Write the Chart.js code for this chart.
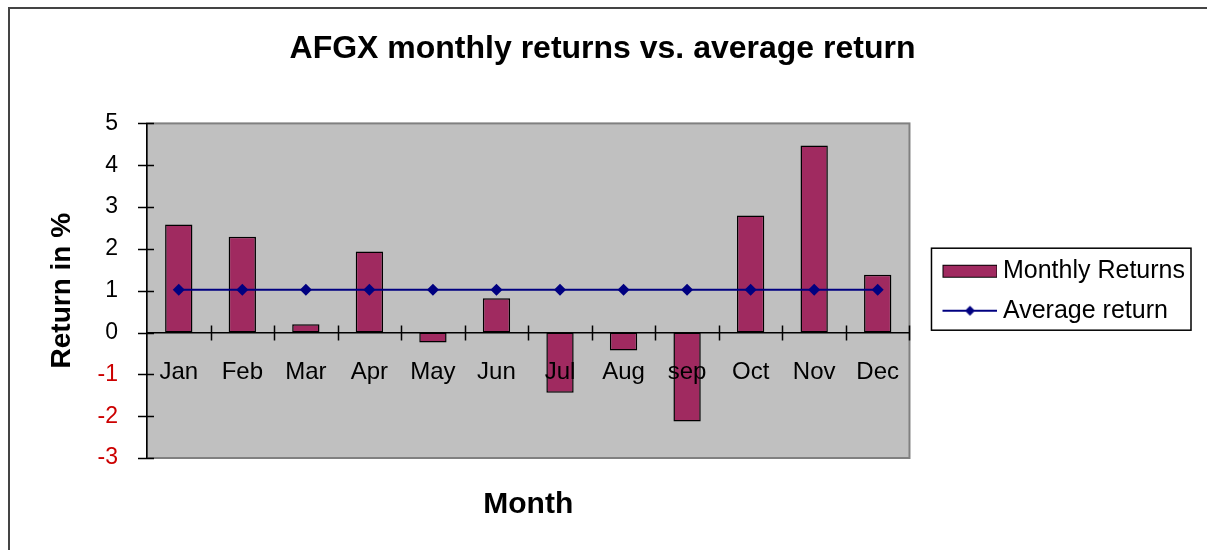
<!DOCTYPE html>
<html>
<head>
<meta charset="utf-8">
<title>AFGX monthly returns</title>
<script src="https://cdn.jsdelivr.net/npm/chart.js@4.4.1/dist/chart.umd.min.js"></script>
<style>
    html, body { margin: 0; padding: 0; background: #fff; }
    #wrap { width: 1207px; height: 550px; position: relative; }
</style>
</head>
<body>
<div id="wrap"><canvas id="afgxChart" width="1207" height="550"></canvas></div>
<script>
// Данные графика
const months = ['Jan', 'Feb', 'Mar', 'Apr', 'May', 'Jun', 'Jul', 'Aug', 'sep', 'Oct', 'Nov', 'Dec'];
const monthlyReturns = [2.58, 2.29, 0.20, 1.94, -0.24, 0.82, -1.44, -0.43, -2.13, 2.80, 4.47, 1.38];
const averageReturn = [1.02, 1.02, 1.02, 1.02, 1.02, 1.02, 1.02, 1.02, 1.02, 1.02, 1.02, 1.02];
const yTicks = [5, 4, 3, 2, 1, 0, -1, -2, -3];

const BAR_COLOR = '#a02a60';
const LINE_COLOR = '#000080';
const FONT = 'Arial, "Liberation Sans", sans-serif';

// Иконки для легенды (прямоугольник и линия с ромбом)
function makeSwatch(kind) {
    const c = document.createElement('canvas');
    c.width = 80;
    c.height = 16;
    const g = c.getContext('2d');
    if (kind === 'bar') {
        g.fillStyle = BAR_COLOR;
        g.fillRect(25, 2, 55, 13);
        g.strokeStyle = '#000';
        g.lineWidth = 1;
        g.strokeRect(25.5, 2.5, 54, 12);
    } else {
        g.strokeStyle = LINE_COLOR;
        g.lineWidth = 2;
        g.beginPath();
        g.moveTo(25, 8);
        g.lineTo(80, 8);
        g.stroke();
        g.fillStyle = LINE_COLOR;
        g.beginPath();
        g.moveTo(52.5, 3);
        g.lineTo(57.5, 8);
        g.lineTo(52.5, 13);
        g.lineTo(47.5, 8);
        g.closePath();
        g.fill();
    }
    return c;
}
const swatches = [makeSwatch('bar'), makeSwatch('line')];

// Рамка, серый фон области построения, рамка легенды и крестовые засечки
const decorPlugin = {
    id: 'decor',
    beforeDraw(chart) {
        const ctx = chart.ctx;
        const a = chart.chartArea;
        ctx.save();
        ctx.fillStyle = '#fff';
        ctx.fillRect(0, 0, chart.width, chart.height);
        ctx.strokeStyle = '#444';
        ctx.lineWidth = 2;
        ctx.beginPath();
        ctx.moveTo(9, chart.height);
        ctx.lineTo(9, 8);
        ctx.lineTo(chart.width, 8);
        ctx.stroke();
        ctx.fillStyle = '#c0c0c0';
        ctx.fillRect(a.left, a.top, a.right - a.left, a.bottom - a.top);
        ctx.strokeStyle = '#808080';
        ctx.lineWidth = 2;
        ctx.strokeRect(a.left, a.top, a.right - a.left, a.bottom - a.top);
        ctx.restore();
    },
    afterDraw(chart) {
        const ctx = chart.ctx;
        const x = chart.scales.x;
        const y = chart.scales.y;
        const y0 = y.getPixelForValue(0);
        const left = chart.chartArea.left;
        ctx.save();
        ctx.strokeStyle = '#000';
        ctx.lineWidth = 1.5;
        ctx.beginPath();
        yTicks.forEach(v => {
            const py = Math.round(y.getPixelForValue(v)) + 0.5;
            ctx.moveTo(left - 9, py);
            ctx.lineTo(left + 7, py);
        });
        const step = x.getPixelForValue(1) - x.getPixelForValue(0);
        for (let i = 0; i < months.length; i++) {
            const px = Math.round(x.getPixelForValue(i) + step / 2) + 0.5;
            ctx.moveTo(px, y0 - 7);
            ctx.lineTo(px, y0 + 8);
        }
        ctx.stroke();

        // рамка легенды
        const hb = chart.legend.legendHitBoxes;
        if (hb && hb.length) {
            const l = hb[0].left + 7;
            const r = hb[0].left + hb[0].width + 6;
            const t = hb[0].top - 10;
            const b = hb[hb.length - 1].top + hb[hb.length - 1].height + 7;
            ctx.lineWidth = 1.5;
            ctx.strokeRect(l, t, r - l, b - t);
        }
        ctx.restore();
    }
};

const ctx = document.getElementById('afgxChart').getContext('2d');
const afgxChart = new Chart(ctx, {
    type: 'bar',
    data: {
        labels: months,
        datasets: [
            {
                type: 'bar',
                label: 'Monthly Returns',
                data: monthlyReturns,
                backgroundColor: BAR_COLOR,
                borderColor: '#000',
                borderWidth: 1.5,
                borderSkipped: false,
                barPercentage: 0.43,
                categoryPercentage: 1,
                order: 2
            },
            {
                type: 'line',
                label: 'Average return',
                data: averageReturn,
                borderColor: LINE_COLOR,
                backgroundColor: LINE_COLOR,
                borderWidth: 2,
                pointStyle: 'rectRot',
                pointRadius: 6,
                pointBorderWidth: 0,
                pointBackgroundColor: LINE_COLOR,
                tension: 0,
                order: 1
            }
        ]
    },
    options: {
        responsive: false,
        animation: false,
        devicePixelRatio: 1,
        layout: { padding: { left: 10, top: 7, right: 12, bottom: 10 } },
        plugins: {
            title: {
                display: true,
                text: 'AFGX monthly returns vs. average return',
                color: '#000',
                font: { family: FONT, size: 32, weight: 'bold' },
                padding: { top: 23, bottom: 55 }
            },
            legend: {
                display: true,
                position: 'right',
                align: 'center',
                fullSize: false,
                labels: {
                    color: '#000',
                    font: { family: FONT, size: 25 },
                    padding: 15,
                    usePointStyle: true,
                    pointStyleWidth: 66,
                    generateLabels: (chart) => chart.data.datasets.map((ds, i) => ({
                        text: ds.label,
                        pointStyle: swatches[i],
                        fillStyle: ds.backgroundColor,
                        strokeStyle: ds.borderColor,
                        lineWidth: 0,
                        datasetIndex: i,
                        hidden: false
                    }))
                }
            },
            tooltip: { enabled: false }
        },
        scales: {
            x: {
                type: 'category',
                position: { y: 0 },
                grid: { display: false },
                border: { display: true, color: '#000', width: 1.5 },
                ticks: {
                    z: 1,
                    color: '#000',
                    font: { family: FONT, size: 24 },
                    padding: 17,
                    autoSkip: false,
                    maxRotation: 0
                }
            },
            x2: {
                type: 'category',
                position: 'bottom',
                grid: { display: false },
                border: { display: false },
                ticks: { display: false },
                title: {
                    display: true,
                    text: 'Month',
                    color: '#000',
                    font: { family: FONT, size: 30, weight: 'bold' },
                    padding: { top: 21, bottom: 17 }
                }
            },
            y: {
                min: -3,
                max: 5,
                ticks: {
                    stepSize: 1,
                    padding: 21,
                    color: (c) => (c.tick && c.tick.value < 0 ? '#cc0000' : '#000'),
                    font: { family: FONT, size: 23 }
                },
                grid: { display: false },
                border: { display: true, color: '#000', width: 1.5 },
                title: {
                    display: true,
                    text: 'Return in %',
                    color: '#000',
                    font: { family: FONT, size: 28, weight: 'bold' },
                    padding: { top: 35, bottom: 0 }
                },
                afterFit: (scale) => { scale.width = 137; }
            }
        }
    },
    plugins: [decorPlugin]
});
</script>
</body>
</html>
